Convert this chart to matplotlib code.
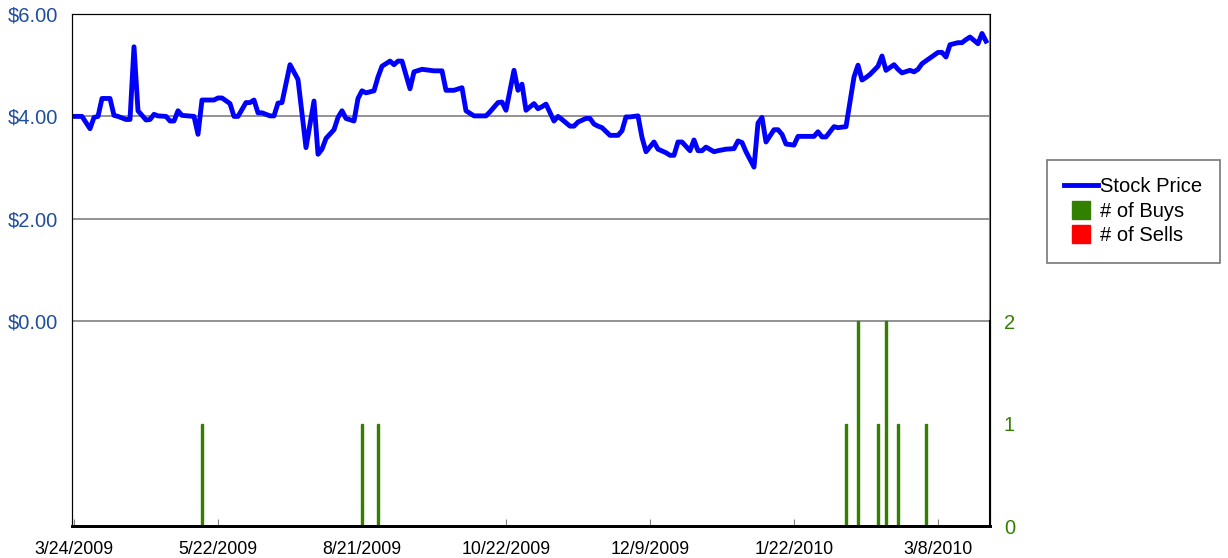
import matplotlib.pyplot as plt
from matplotlib.lines import Line2D

plt.rcParams['font.family'] = ['Liberation Sans', 'DejaVu Sans']

# trading-day index and closing price
days = [0, 2, 4, 5, 6, 7, 9, 10, 11, 13, 14, 15, 16, 18, 19, 20, 21, 23, 24, 25,
        26, 27, 30, 31, 32, 35, 36, 37, 39, 40, 41, 43, 44, 45, 46, 47, 49, 50, 51, 52,
        54, 56, 58, 60, 61, 62, 63, 65, 66, 67, 68, 70, 71, 72, 73, 75, 76, 77, 79, 80,
        81, 82, 84, 85, 87, 90, 92, 93, 95, 97, 98, 100, 103, 104, 106, 107, 108, 110, 111, 112,
        113, 115, 116, 117, 118, 120, 121, 122, 124, 125, 126, 128, 129, 130, 131, 132, 134, 136, 137, 138,
        139, 141, 142, 143, 145, 146, 148, 149, 150, 151, 152, 154, 155, 156, 157, 158, 160, 161, 163, 165,
        166, 167, 168, 170, 171, 172, 173, 175, 176, 177, 178, 180, 181, 185, 186, 187, 188, 190, 191, 193,
        195, 196, 197, 198, 199, 201, 202, 203, 205, 206, 207, 209, 210, 211, 212, 214, 216, 217, 218, 219,
        221, 222, 223, 224, 226, 227, 228]
price = [4.00, 4.00, 3.76, 3.98, 4.00, 4.35, 4.35, 4.02, 4.00, 3.94, 3.94, 5.36, 4.11, 3.93, 3.94, 4.04, 4.01, 4.00, 3.91, 3.91,
         4.11, 4.02, 4.00, 3.65, 4.32, 4.32, 4.36, 4.36, 4.25, 4.00, 4.00, 4.27, 4.27, 4.32, 4.07, 4.07, 4.01, 4.01, 4.26, 4.27,
         5.01, 4.72, 3.39, 4.30, 3.26, 3.36, 3.57, 3.74, 3.98, 4.11, 3.96, 3.91, 4.35, 4.50, 4.46, 4.50, 4.77, 4.98, 5.08, 5.01,
         5.08, 5.08, 4.54, 4.87, 4.92, 4.89, 4.89, 4.51, 4.51, 4.56, 4.11, 4.01, 4.01, 4.09, 4.27, 4.28, 4.12, 4.90, 4.51, 4.63,
         4.12, 4.25, 4.15, 4.19, 4.24, 3.91, 4.00, 3.94, 3.81, 3.81, 3.89, 3.96, 3.96, 3.85, 3.81, 3.78, 3.63, 3.63, 3.72, 3.99,
         3.99, 4.01, 3.59, 3.31, 3.50, 3.36, 3.29, 3.24, 3.24, 3.50, 3.50, 3.33, 3.54, 3.33, 3.33, 3.40, 3.31, 3.33, 3.36, 3.37,
         3.52, 3.49, 3.31, 3.01, 3.87, 3.98, 3.50, 3.74, 3.74, 3.65, 3.46, 3.44, 3.61, 3.61, 3.70, 3.60, 3.60, 3.80, 3.78, 3.80,
         4.77, 5.00, 4.71, 4.76, 4.82, 4.98, 5.18, 4.90, 5.01, 4.92, 4.85, 4.90, 4.87, 4.92, 5.03, 5.14, 5.25, 5.25, 5.16, 5.40,
         5.44, 5.44, 5.50, 5.55, 5.42, 5.62, 5.47]

buy_days = [32, 72, 76, 193, 196, 201, 203, 206, 213]
buys = [1, 1, 1, 1, 2, 1, 2, 1, 1]

tick_days = [0, 36, 72, 108, 144, 180, 216]
tick_labels = ['3/24/2009', '5/22/2009', '8/21/2009', '10/22/2009', '12/9/2009', '1/22/2010', '3/8/2010']

blue_txt = '#1F4E9A'
green = '#338000'

fig = plt.figure(figsize=(12.28, 5.58), dpi=100)
ax = fig.add_axes([72 / 1228, 32 / 558, 918 / 1228, 512 / 558])
ax2 = ax.twinx()

for v in [0, 2, 4]:
    ax.axhline(v, color='#808080', lw=1.2, zorder=1)
ax.plot(days, price, color='#0000FF', lw=3.5, zorder=3, solid_joinstyle='round')

ax2.bar(buy_days, buys, width=0.5, color=green, edgecolor=green, linewidth=1.0, zorder=2)

ax.set_xlim(-0.5, 229)
ax.set_ylim(-4, 6)
ax2.set_ylim(0, 5)

ax.set_yticks([0, 2, 4, 6])
ax.set_yticklabels(['$0.00', '$2.00', '$4.00', '$6.00'])
ax2.set_yticks([0, 1, 2])
ax.tick_params(axis='y', length=0, labelsize=14.5, labelcolor=blue_txt, pad=10)
ax2.tick_params(axis='y', length=0, labelsize=14.5, labelcolor=green, pad=10)

ax.set_xticks(tick_days)
ax.set_xticklabels(tick_labels)
ax.tick_params(axis='x', direction='in', length=5, color='#808080', labelsize=12.8, pad=11)

for a in (ax, ax2):
    a.spines['left'].set_color('black')
    a.spines['bottom'].set_color('black')
    a.spines['top'].set_color('black')
    a.spines['bottom'].set_linewidth(2)
ax2.spines['right'].set_bounds(0, 2)
ax2.spines['right'].set_color('black')
ax2.spines['right'].set_linewidth(1.5)
ax2.axvline(229, ymin=0.4, ymax=1, color='#808080', lw=1.5)

handles = [Line2D([0], [0], color='#0000FF', lw=3.5),
           Line2D([0], [0], marker='s', color=green, linestyle='none', markersize=13),
           Line2D([0], [0], marker='s', color='#FF0000', linestyle='none', markersize=13)]
leg = fig.legend(handles, ['Stock Price', '# of Buys', '# of Sells'],
                 loc='upper left', bbox_to_anchor=(1047 / 1228, 1 - 160 / 558),
                 fontsize=14.5, frameon=True, fancybox=False, handlelength=1.7,
                 handletextpad=0.1, borderpad=0.85, labelspacing=0.28, borderaxespad=0)
leg.get_frame().set_edgecolor('#555555')
leg.get_frame().set_linewidth(1.2)

fig.savefig('out.png', dpi=100)
